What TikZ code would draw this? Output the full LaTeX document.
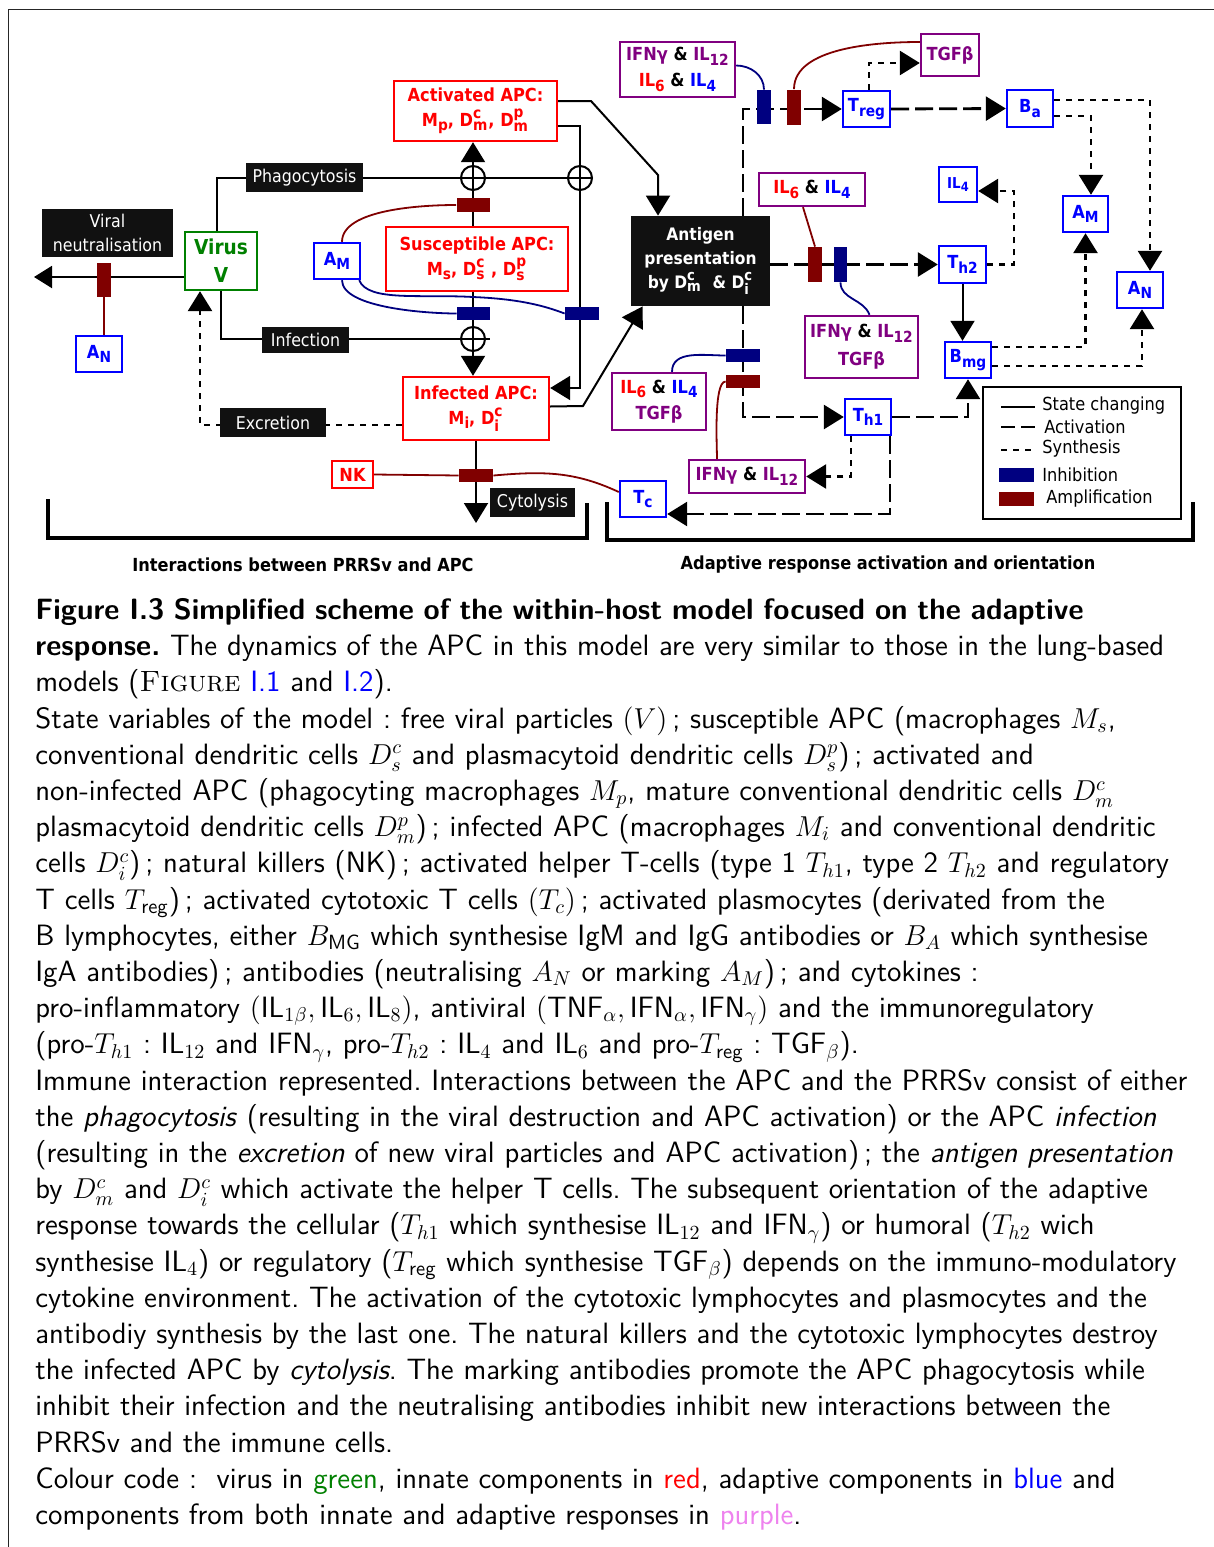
\documentclass[tikz,border=0pt]{standalone}
\usepackage{amsmath}
\usepackage{fontspec}
\usepackage{graphicx}
\usetikzlibrary{arrows.meta,calc}
\newfontfamily\dfont[FakeStretch=0.9]{DejaVu Sans}
\definecolor{ired}{RGB}{255,0,0}
\definecolor{ablue}{RGB}{0,0,255}
\definecolor{vgreen}{RGB}{0,128,0}
\definecolor{purp}{RGB}{128,0,128}
\definecolor{navyc}{RGB}{0,0,128}
\definecolor{dred}{RGB}{128,0,0}
\definecolor{lblk}{RGB}{17,17,17}
\definecolor{capviolet}{RGB}{238,130,238}
\definecolor{linkblue}{RGB}{0,0,255}
\newcommand\dsb[1]{\raisebox{-0.45ex}{\scalebox{0.85}{#1}}}
\newcommand\dss[2]{$^{\hbox{\scalebox{0.85}{#1}}}_{\hbox{\scalebox{0.85}{#2}}}$}
\pgfdeclarelayer{bg}
\pgfsetlayers{bg,main}
\tikzset{
 bx/.style={draw, fill=white, line width=1.2pt, inner sep=0pt, align=center, font=\dfont\bfseries\fontsize{9}{12.5}\selectfont},
 rbox/.style={bx, draw=ired, text=ired},
 bbox/.style={bx, draw=ablue, text=ablue},
 pbox/.style={bx, draw=purp, text=black},
 lbl/.style={fill=lblk, text=white, inner sep=0pt, align=center, font=\dfont\fontsize{8.8}{12}\selectfont},
 ibar/.style={fill=navyc, inner sep=0pt, draw=none},
 abar/.style={fill=dred, inner sep=0pt, draw=none},
 sc/.style={line width=1pt},
 ac/.style={line width=1.4pt, dash pattern=on 9pt off 3pt},
 sy/.style={line width=1.4pt, dash pattern=on 3pt off 3pt},
 tip/.style={-{Triangle[length=10pt,width=12pt]}},
 circ/.style={circle, draw, line width=1pt, minimum size=12pt, inner sep=0pt},
 rg/.style={line width=0.9pt},
 legt/.style={anchor=west, inner sep=0pt, font=\dfont\fontsize{9}{10}\selectfont},
}
\begin{document}
\begin{tikzpicture}[x=0.5pt,y=-0.5pt]
\useasboundingbox (0,0) rectangle (1214,1547);
\begin{pgfonlayer}{bg}
\fill[white] (0,0) rectangle (1214,1547);
\end{pgfonlayer}
\draw[line width=0.8pt, black!85] (8.5,1547) -- (8.5,9.5) -- (1214,9.5);

% ---------- coordinates
\coordinate (vnend) at (34,277);
\coordinate (infend) at (490,339);
\coordinate (a1) at (591,101);
\coordinate (a2) at (658,175);
\coordinate (bB) at (580,388);
\coordinate (i1) at (583,406);
\coordinate (cytend) at (476,523);
\coordinate (t2r) at (1014,191);

% ---------- left part
\node[lbl, minimum width=65.5pt, minimum height=24pt] (vn) at (107.5,233) {Viral\\neutralisation};
\node[bx, draw=vgreen, text=vgreen, minimum width=36pt, minimum height=29pt, font=\dfont\bfseries\fontsize{10.3}{14}\selectfont] (virus) at (221,261) {Virus\\V};
\node[bbox, minimum width=23pt, minimum height=18pt] (an1) at (99,354) {A\dsb{N}};
\node[abar, minimum width=7pt, minimum height=17pt] (bvn) at (104,279.5) {};
\node[lbl, minimum width=58.5pt, minimum height=14.5pt] (phago) at (304.5,177.5) {Phagocytosis};
\node[lbl, minimum width=43.5pt, minimum height=13pt] (infl) at (305.5,340) {Infection};
\node[lbl, minimum width=53pt, minimum height=14.5pt] (excl) at (273,422.5) {Excretion};
\node[lbl, minimum width=42.5pt, minimum height=14.5pt] (cytl) at (532.5,502.5) {Cytolysis};
\node[rbox, minimum width=81.5pt, minimum height=30pt] (act) at (475.5,111) {Activated APC:\\M\dsb{p}, D\dss{c}{m}, D\dss{p}{m}};
\node[rbox, minimum width=91pt, minimum height=32pt] (sus) at (477,259) {Susceptible APC:\\M\dsb{s}, D\dss{c}{s} , D\dss{p}{s}};
\node[rbox, minimum width=73pt, minimum height=31.5pt] (inf) at (476,408.5) {Infected APC:\\M\dsb{i}, D\dss{c}{i}};
\node[bbox, minimum width=23pt, minimum height=18pt] (am1) at (337,261) {A\dsb{M}};
\node[circ] (c1) at (473,178) {};
\node[circ] (c2) at (473,339) {};
\node[circ] (c3) at (580,178) {};
\node[abar, minimum width=16.5pt, minimum height=7pt] (barA) at (473,205) {};
\node[ibar, minimum width=16.5pt, minimum height=6.5pt] (barI1) at (473.5,313.5) {};
\node[ibar, minimum width=17pt, minimum height=6.5pt] (barI2) at (582,313.5) {};
\node[rbox, minimum width=20.5pt, minimum height=13.5pt] (nk) at (352.5,474.5) {NK};
\node[abar, minimum width=17pt, minimum height=6.5pt] (barC) at (476,475.5) {};
\node[bbox, minimum width=23pt, minimum height=18pt] (tc) at (643,499) {T\dsb{c}};

% ---------- right part
\node[fill=lblk, text=white, inner sep=0pt, minimum width=69.5pt, minimum height=45pt, align=center, font=\dfont\bfseries\fontsize{8.6}{12}\selectfont] (ant) at (700.5,261) {Antigen\\presentation\\by D\dss{c}{m}\ \ \& D\dss{c}{i}};
\node[pbox, minimum width=57.5pt, minimum height=27.5pt, font=\dfont\bfseries\fontsize{9}{13}\selectfont] (box1) at (677.5,69.5) {\textcolor{purp}{IFNγ} \& \textcolor{purp}{IL\dsb{12}}\\\textcolor{ired}{IL\dsb{6}} \& \textcolor{ablue}{IL\dsb{4}}};
\node[ibar, minimum width=7pt, minimum height=17pt] (barT1) at (764,107) {};
\node[abar, minimum width=7pt, minimum height=17.5pt] (barT2) at (794,107) {};
\node[pbox, text=purp, minimum width=29pt, minimum height=21pt] (tgf) at (950,55) {TGFβ};
\node[bbox, minimum width=23.5pt, minimum height=18pt] (treg) at (866.5,109) {T\dsb{reg}};
\node[bbox, minimum width=23pt, minimum height=18.5pt] (ba) at (1030,108.5) {B\dsb{a}};
\node[bbox, minimum width=22.5pt, minimum height=18pt] (am2) at (1085.5,214) {A\dsb{M}};
\node[bbox, minimum width=23pt, minimum height=18pt] (an2) at (1140,290) {A\dsb{N}};
\node[pbox, minimum width=53pt, minimum height=16.5pt] (box2) at (812,189.5) {\textcolor{ired}{IL\dsb{6}} \& \textcolor{ablue}{IL\dsb{4}}};
\node[abar, minimum width=7pt, minimum height=17.5pt] (barM1) at (815,264.5) {};
\node[ibar, minimum width=6.5pt, minimum height=17.5pt] (barM2) at (840.5,264.5) {};
\node[bbox, minimum width=23.5pt, minimum height=18.5pt] (th2) at (962.5,264.5) {T\dsb{h2}};
\node[bbox, minimum width=19pt, minimum height=17.5pt, font=\dfont\bfseries\fontsize{7.5}{9}\selectfont] (il4) at (958,184.5) {IL\dsb{4}};
\node[pbox, minimum width=56.5pt, minimum height=31pt, font=\dfont\bfseries\fontsize{9}{14}\selectfont] (box3) at (861.5,347) {\textcolor{purp}{IFNγ} \& \textcolor{purp}{IL\dsb{12}}\\\textcolor{purp}{TGFβ}};
\node[bbox, minimum width=23pt, minimum height=18pt] (bmg) at (968,360) {B\dsb{mg}};
\node[bbox, minimum width=23pt, minimum height=18pt] (th1) at (868,417) {T\dsb{h1}};
\node[pbox, minimum width=47pt, minimum height=28.5pt, font=\dfont\bfseries\fontsize{9}{13}\selectfont] (box4) at (659,401.5) {\textcolor{ired}{IL\dsb{6}} \& \textcolor{ablue}{IL\dsb{4}}\\\textcolor{purp}{TGFβ}};
\node[ibar, minimum width=17pt, minimum height=6.5pt] (barL1) at (743,355.5) {};
\node[abar, minimum width=17pt, minimum height=6.5pt] (barL2) at (743,381.5) {};
\node[pbox, minimum width=58pt, minimum height=16.5pt] (box5) at (747,476.5) {\textcolor{purp}{IFNγ} \& \textcolor{purp}{IL\dsb{12}}};

% ---------- legend
\node[draw, line width=1.2pt, minimum width=99pt, minimum height=66pt, inner sep=0pt] (leg) at (1082,453) {};
\node[legt] (lt1) at (1042,406) {State changing};
\node[legt] (lt2) at (1044,427) {Activation};
\node[legt] (lt3) at (1042,449) {Synthesis};
\node[legt] (lt4) at (1042,475) {Inhibition};
\node[legt] (lt5) at (1046,499) {Amplification};
\draw[sc] (1001,407) -- (1035,407);
\draw[ac, dash pattern=on 7pt off 3pt] (1001,427) -- (1035,427);
\draw[sy] (1001,450) -- (1035,450);
\fill[navyc] (999,468) rectangle (1034,482);
\fill[dred] (999,492) rectangle (1034,506);

% ---------- brackets and titles
\draw[line width=1.6pt] (48,499) -- (48,538) -- (587,538) -- (587,503);
\draw[line width=1.6pt] (607,502) -- (607,540) -- (1193,540) -- (1193,502);
\node[font=\dfont\bfseries\fontsize{9}{10}\selectfont] (lab1) at (303,565) {Interactions between PRRSv and APC};
\node[font=\dfont\bfseries\fontsize{9}{10}\selectfont] (lab2) at (888,565) {Adaptive response activation and orientation};

% ---------- connectors
\begin{pgfonlayer}{bg}
\draw[sc, -{Triangle[length=9pt,width=11pt]}] (virus.west |- vnend) -- (vnend);
\draw[dred, rg] (bvn.south) -- (bvn.south |- an1.north);
\draw[sc] ([xshift=-2pt]virus.north) |- (c3.east);
\draw[sc] (virus.south) |- (infend);
\draw[sc, tip] (c1.center |- sus.north) -- (c1.center |- act.south);
\draw[sc, tip] (c2.center |- sus.south) -- (c2.center |- inf.north);
\draw[sc, tip] ([yshift=5pt]act.east) -- (a1) -- (a2) -- (a2 |- ant.north);
\draw[sc, tip] ([yshift=-7.5pt]act.east) -| (bB) -- (bB -| inf.east);
\draw[sc, tip] ([yshift=1pt]inf.east) -- (i1) -- ([xshift=6pt]ant.south west);
\draw[sy, tip] ([yshift=-8.25pt]inf.west) -| ([xshift=-10.5pt]virus.south);
\draw[sc, tip] (inf.south) -- (inf.south |- cytend);
\draw[dred, rg] (nk.east) -- (barC.west);
\draw[dred, rg] (barC.east) to[out=5, in=155] ([yshift=3.5pt]tc.west);
\draw[dred, rg] (barA.west) to[out=180, in=90, looseness=0.7] ([xshift=2.5pt]am1.north);
\draw[navyc, rg] ([xshift=2.5pt]am1.south) to[out=-90, in=180, looseness=0.6] (barI1.west);
\draw[navyc, rg] ([xshift=-1pt]am1.south east) .. controls (368,302) and (420,294) .. (473,297) .. controls (520,299) and (545,306) .. (barI2.west);
\draw[ac, tip] ([xshift=21.25pt]ant.north) |- (treg.west);
\draw[navyc, rg] ([yshift=2pt]box1.east) to[out=0, in=90] (barT1.north);
\draw[dred, rg] (barT2.north) to[out=90, in=180, looseness=0.8] ([yshift=6.5pt]tgf.west);
\draw[ac, tip] (treg.east) -- (ba.west);
\draw[sy, tip] ([xshift=1.25pt]treg.north) |- ([yshift=-4pt]tgf.west);
\draw[sy, tip] ([yshift=4.25pt]ba.east) -| ([xshift=5pt]an2.north);
\draw[sy, tip] ([yshift=-3.75pt]ba.east) -| ([xshift=2.75pt]am2.north);
\draw[dred, rg] ([xshift=-4.5pt]box2.south) -- (barM1.north);
\draw[ac, tip] (th2.west -| ant.east) -- (th2.west);
\draw[navyc, rg] (barM2.south) to[out=-90, in=110] ([xshift=4pt]box3.north);
\draw[sy, tip] (th2.east) -| (t2r) -- (t2r -| il4.east);
\draw[sc, tip] (th2.south) -- (th2.south |- bmg.north);
\draw[sy, tip] ([yshift=6.5pt]bmg.east) -| (am2.south);
\draw[sy, tip] ([yshift=-3pt]bmg.east) -| ([xshift=1pt]an2.south);
\draw[ac, tip] (th1.east) -| (bmg.south);
\draw[ac, tip] ([xshift=21.25pt]ant.south) |- (th1.west);
\draw[navyc, rg] (barL1.west) to[out=180, in=90] ([xshift=6.5pt]box4.north);
\draw[dred, rg] (barL2.west) to[out=180, in=90, looseness=0.4] ([xshift=-15pt]box5.north);
\draw[sy, tip] ([xshift=-8.5pt]th1.south) |- (box5.east);
\draw[ac, tip] ([xshift=11pt]th1.south) |- ([yshift=-7.5pt]tc.east);
\end{pgfonlayer}

% ---------- caption
\node[anchor=north west, inner sep=0pt, text width=600pt, align=left, font=\sffamily\fontsize{14.7}{18.1}\selectfont\frenchspacing] (cap) at (35,598) {%
{\bfseries Figure I.3 Simplified scheme of the within-host model focused on the adaptive\\
response.} The dynamics of the APC in this model are very similar to those in the lung-based\\
models ({\rmfamily\scshape Figure} \textcolor{linkblue}{I.1} and \textcolor{linkblue}{I.2}).\\
State variables of the model : free viral particles $(V)$\,; susceptible APC (macrophages $M_s$,\\
conventional dendritic cells $D_s^c$ and plasmacytoid dendritic cells $D_s^p$)\,; activated and\\
non-infected APC (phagocyting macrophages $M_p$, mature conventional dendritic cells $D_m^c$\\
plasmacytoid dendritic cells $D_m^p$)\,; infected APC (macrophages $M_i$ and conventional dendritic\\
cells $D_i^c$)\,; natural killers (NK)\,; activated helper T-cells (type 1 $T_{h1}$, type 2 $T_{h2}$ and regulatory\\
T cells $T_\text{reg}$)\,; activated cytotoxic T cells $(T_c)$\,; activated plasmocytes (derivated from the\\
B lymphocytes, either $B_\text{MG}$ which synthesise IgM and IgG antibodies or $B_A$ which synthesise\\
IgA antibodies)\,; antibodies (neutralising $A_N$ or marking $A_M$)\,; and cytokines :\\
pro-inflammatory $(\text{IL}_{1\beta},\text{IL}_6,\text{IL}_8)$, antiviral $(\text{TNF}_\alpha,\text{IFN}_\alpha,\text{IFN}_\gamma)$ and the immunoregulatory\\
(pro-$T_{h1}$ : IL$_{12}$ and IFN$_\gamma$, pro-$T_{h2}$ : IL$_4$ and IL$_6$ and pro-$T_\text{reg}$ : TGF$_\beta$).\\
Immune interaction represented. Interactions between the APC and the PRRSv consist of either\\
the \textit{phagocytosis} (resulting in the viral destruction and APC activation) or the APC \textit{infection}\\
(resulting in the \textit{excretion} of new viral particles and APC activation)\,; the \textit{antigen presentation}\\
by $D_m^c$ and $D_i^c$ which activate the helper T cells. The subsequent orientation of the adaptive\\
response towards the cellular ($T_{h1}$ which synthesise IL$_{12}$ and IFN$_\gamma$) or humoral ($T_{h2}$ wich\\
synthesise IL$_4$) or regulatory ($T_\text{reg}$ which synthesise TGF$_\beta$) depends on the immuno-modulatory\\
cytokine environment. The activation of the cytotoxic lymphocytes and plasmocytes and the\\
antibodiy synthesis by the last one. The natural killers and the cytotoxic lymphocytes destroy\\
the infected APC by \textit{cytolysis}. The marking antibodies promote the APC phagocytosis while\\
inhibit their infection and the neutralising antibodies inhibit new interactions between the\\
PRRSv and the immune cells.\\
Colour code :\ \ virus in \textcolor{vgreen}{green}, innate components in \textcolor{ired}{red}, adaptive components in \textcolor{linkblue}{blue} and\\
components from both innate and adaptive responses in \textcolor{capviolet}{purple}.};
\end{tikzpicture}
\end{document}
